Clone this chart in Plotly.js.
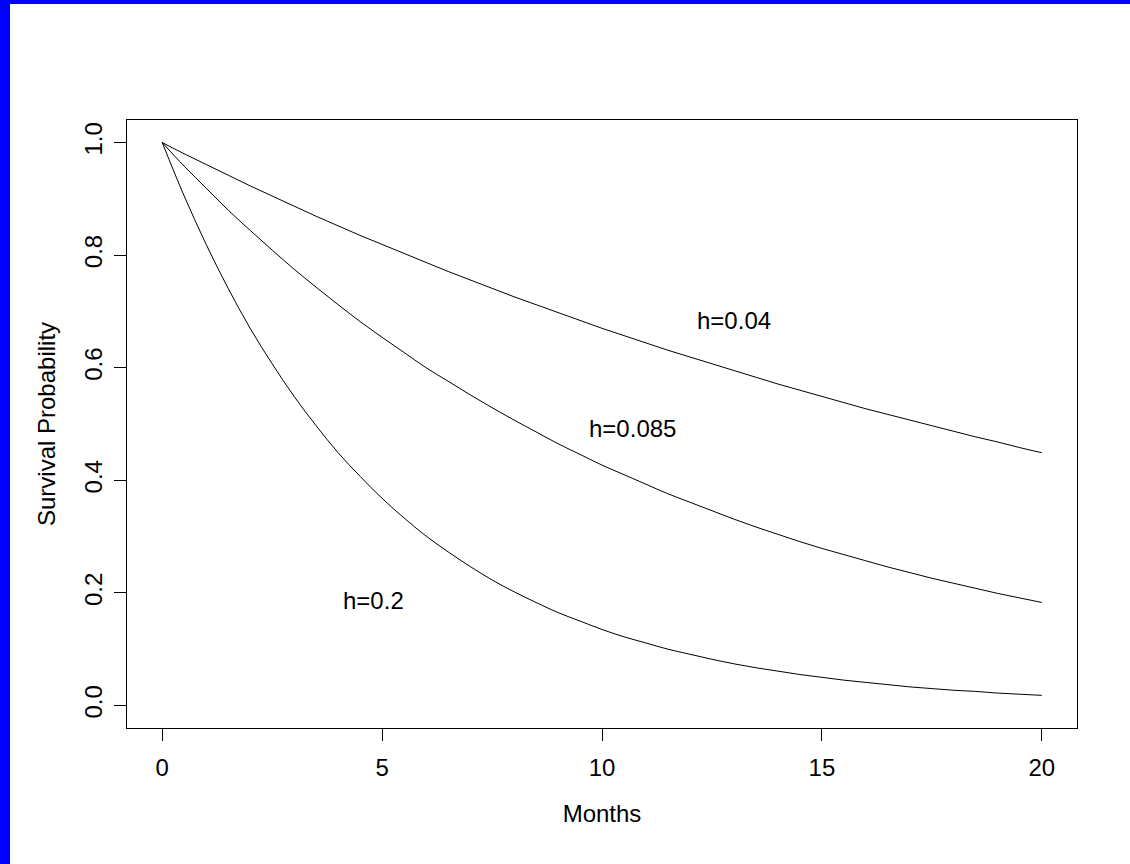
<!DOCTYPE html>
<html>
<head>
<meta charset="utf-8">
<script src="https://cdn.plot.ly/plotly-3.0.1.min.js"></script>
<style>
html,body{margin:0;padding:0;background:#fff;}
#chart{width:1130px;height:864px;}
</style>
</head>
<body>
<div id="chart"></div>
<script>
// Months (half-month steps)
const months = [0,0.5,1,1.5,2,2.5,3,3.5,4,4.5,5,5.5,6,6.5,7,7.5,8,8.5,9,9.5,10,10.5,11,11.5,12,12.5,13,13.5,14,14.5,15,15.5,16,16.5,17,17.5,18,18.5,19,19.5,20];
// Survival probabilities
const survH004  = [1.000,0.980,0.961,0.942,0.923,0.905,0.887,0.869,0.852,0.835,0.819,0.803,0.787,0.771,0.756,0.741,0.726,0.712,0.698,0.684,0.670,0.657,0.644,0.631,0.619,0.607,0.595,0.583,0.571,0.560,0.549,0.538,0.527,0.517,0.507,0.497,0.487,0.477,0.468,0.458,0.449];
const survH0085 = [1.000,0.958,0.919,0.880,0.844,0.809,0.775,0.743,0.712,0.682,0.654,0.627,0.600,0.576,0.552,0.529,0.507,0.486,0.465,0.446,0.427,0.410,0.393,0.376,0.361,0.346,0.331,0.317,0.304,0.291,0.279,0.268,0.257,0.246,0.236,0.226,0.217,0.208,0.199,0.191,0.183];
const survH02   = [1.000,0.905,0.819,0.741,0.670,0.607,0.549,0.497,0.449,0.407,0.368,0.333,0.301,0.273,0.247,0.223,0.202,0.183,0.165,0.150,0.135,0.122,0.111,0.100,0.091,0.082,0.074,0.067,0.061,0.055,0.050,0.045,0.041,0.037,0.033,0.030,0.027,0.025,0.022,0.020,0.018];
// Curve labels
const labelText = ["h=0.04","h=0.085","h=0.2"];
const labelX = [13, 10.7, 4.8];
const labelY = [0.683, 0.492, 0.186];
const xTicks = [0,5,10,15,20];
const yTicks = [0,0.2,0.4,0.6,0.8,1.0];

const FONT = '"Liberation Sans", Arial, Helvetica, sans-serif';
const FS = 24;
const lineStyle = {color:'#000', width:1, shape:'spline', smoothing:1};

const traces = [survH004, survH0085, survH02].map(v => ({
  x: months, y: v, type:'scatter', mode:'lines', line: lineStyle, hoverinfo:'skip'
}));

const W=1130,H=864,L=127,R=53,T=120,B=136;
const pw=W-L-R, ph=H-T-B;
const px = p => (p-L)/pw;
const py = p => (H-B-p)/ph;

const layout = {
  width:W, height:H,
  margin:{l:L, r:R, t:T, b:B, pad:0},
  paper_bgcolor:'#fff', plot_bgcolor:'#fff',
  showlegend:false,
  font:{family:FONT, size:FS, color:'#000'},
  xaxis:{
    range:[-0.8,20.8], tickvals:xTicks, ticktext:xTicks.map(String),
    showgrid:false, zeroline:false, showline:true, mirror:true,
    linecolor:'#000', linewidth:1, ticks:'outside', ticklen:12, tickwidth:1, tickcolor:'#000',
    ticklabelstandoff:6,
    tickfont:{family:FONT, size:FS, color:'#000'},
    title:{text:'Months', font:{family:FONT, size:FS, color:'#000'}, standoff:25}
  },
  yaxis:{
    range:[-0.04,1.04], tickvals:yTicks, ticktext:yTicks.map(v=>v.toFixed(1)),
    showgrid:false, zeroline:false, showline:true, mirror:true,
    linecolor:'#000', linewidth:1, ticks:'outside', ticklen:12, tickwidth:1, tickcolor:'#000',
    tickangle:-90, ticklabelstandoff:2,
    tickfont:{family:FONT, size:FS, color:'#000'},
    title:{text:'Survival Probability', font:{family:FONT, size:FS, color:'#000'}, standoff:18}
  },
  annotations: labelText.map((t,i)=>({
    x:labelX[i], y:labelY[i], xref:'x', yref:'y', text:t, showarrow:false,
    xanchor:'center', yanchor:'middle', font:{family:FONT, size:FS, color:'#000'}
  })),
  shapes:[
    {type:'rect', xref:'paper', yref:'paper', x0:px(0), x1:px(10), y0:py(H), y1:py(0), fillcolor:'#0000ff', line:{width:0}, layer:'above'},
    {type:'rect', xref:'paper', yref:'paper', x0:px(0), x1:px(W), y0:py(4), y1:py(0), fillcolor:'#0000ff', line:{width:0}, layer:'above'}
  ]
};

Plotly.newPlot('chart', traces, layout, {displayModeBar:false, staticPlot:true});
</script>
</body>
</html>
